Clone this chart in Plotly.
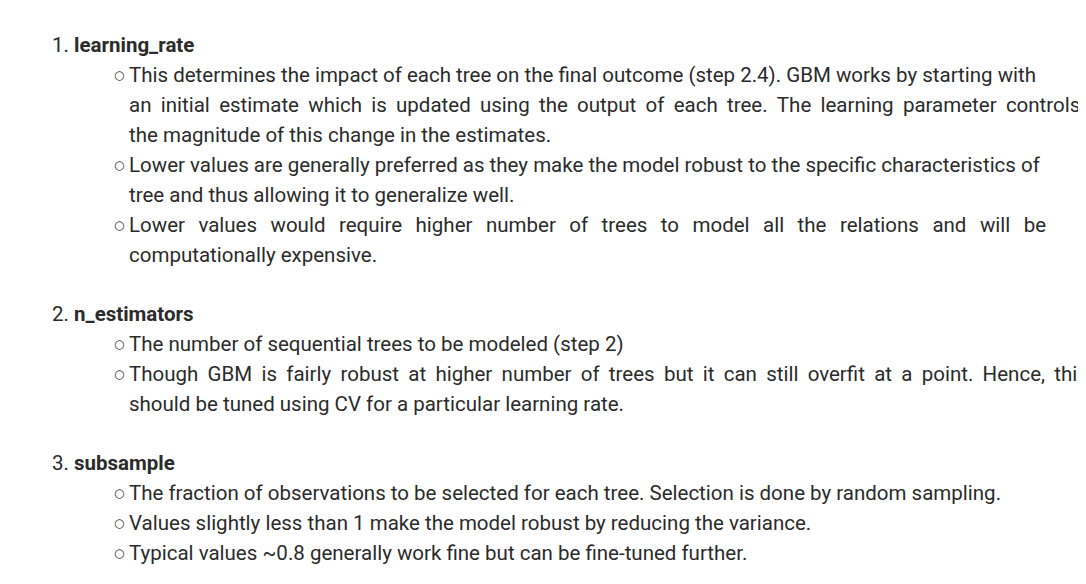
import plotly.graph_objects as go

W, H = 1086, 584
headings = ["1. <b>learning_rate</b>", "2. <b>n_estimators</b>", "3. <b>subsample</b>"]
heading_y = [44, 313, 462]
bullets = [
    [["This determines the impact of each tree on the final outcome (step 2.4). GBM works by starting with",
      "an initial estimate which is updated using the output of each tree. The learning parameter controls",
      "the magnitude of this change in the estimates."],
     ["Lower values are generally preferred as they make the model robust to the specific characteristics of",
      "tree and thus allowing it to generalize well."],
     ["Lower values would require higher number of trees to model all the relations and will be",
      "computationally expensive."]],
    [["The number of sequential trees to be modeled (step 2)"],
     ["Though GBM is fairly robust at higher number of trees but it can still overfit at a point. Hence, this",
      "should be tuned using CV for a particular learning rate."]],
    [["The fraction of observations to be selected for each tree. Selection is done by random sampling."],
     ["Values slightly less than 1 make the model robust by reducing the variance."],
     ["Typical values ~0.8 generally work fine but can be fine-tuned further."]],
]
# extra thin spaces per word gap to mimic justified text (style only)
extra_gap = {"Lower values would require higher number of trees to model all the relations and will be": 2,
             "Though GBM is fairly robust at higher number of trees but it can still overfit at a point. Hence, this": 1,
             "an initial estimate which is updated using the output of each tree. The learning parameter controls": 1}

FONT = dict(family="Roboto", size=20.5, color="#2b2b2b")
LH = 30
DX, DY = -10, -7
TEXT_X, BUL_X, NUM_X = 129 + DX, 111 + DX, 52 + DX

anns = []

def add(text, x, y, xanchor="left", font=FONT):
    anns.append(dict(text=text, x=x / W, y=1 - (y + DY) / H, xref="paper", yref="paper",
                     xanchor=xanchor, yanchor="middle", showarrow=False, font=font))

for hi, h in enumerate(headings):
    y = heading_y[hi]
    add(h, NUM_X, y)
    for b in bullets[hi]:
        y += LH
        add("○", BUL_X + 10, y, xanchor="center",
            font=dict(family="DejaVu Sans", size=12, color="#2b2b2b"))
        for li, line in enumerate(b):
            if li > 0:
                y += LH
            n = extra_gap.get(line, 0)
            txt = line.replace(" ", " " + "\u2009" * n) if n else line
            add(txt, TEXT_X, y)

fig = go.Figure()
fig.update_layout(width=W, height=H, margin=dict(l=0, r=0, t=0, b=0),
                  paper_bgcolor="white", plot_bgcolor="white", annotations=anns,
                  xaxis=dict(visible=False), yaxis=dict(visible=False))
fig.write_html("out.html")
